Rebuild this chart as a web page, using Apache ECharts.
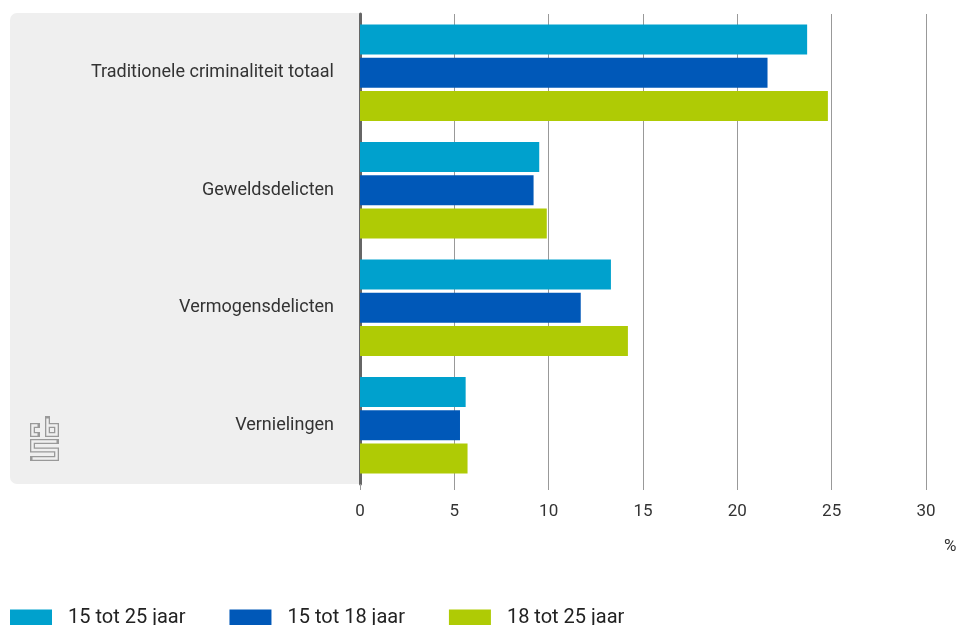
<!DOCTYPE html>
<html>
<head>
<meta charset="utf-8">
<script src="https://cdn.jsdelivr.net/npm/echarts@6/dist/echarts.min.js"></script>
<style>
  html, body { margin: 0; padding: 0; background: #fff; }
  #chart { width: 959px; height: 625px; }
</style>
</head>
<body>
<div id="chart"></div>
<script>
// Categories (top to bottom)
const categories = [
  'Traditionele criminaliteit totaal',
  'Geweldsdelicten',
  'Vermogensdelicten',
  'Vernielingen'
];

// Series names and values (%)
const seriesNames = ['15 tot 25 jaar', '15 tot 18 jaar', '18 tot 25 jaar'];
const values15to25 = [23.7, 9.5, 13.3, 5.6];
const values15to18 = [21.6, 9.2, 11.7, 5.3];
const values18to25 = [24.8, 9.9, 14.2, 5.7];

// Value axis ticks
const axisMin = 0;
const axisMax = 30;
const axisStep = 5;

const colors = ['#00a1cd', '#0058b8', '#afcb05'];
const font = 'Roboto, "Open Sans", sans-serif';

const chart = echarts.init(document.getElementById('chart'), null, { renderer: 'canvas' });

// CBS logo drawn as outlined strokes: thick grey stroke with a thin panel-coloured core
function outlined(points) {
  return [
    { type: 'polyline', shape: { points }, style: { fill: null, stroke: '#999999', lineWidth: 5, lineCap: 'square', lineJoin: 'miter' } },
    { type: 'polyline', shape: { points }, style: { fill: null, stroke: '#efefef', lineWidth: 2.4, lineCap: 'butt', lineJoin: 'miter' } }
  ];
}
const logoParts = []
  .concat(outlined([[37.5, 425.5], [32.5, 425.5], [32.5, 434.5], [37.5, 434.5]]))
  .concat(outlined([[47.5, 418.5], [47.5, 434.5], [56.5, 434.5], [56.5, 425.5], [47.5, 425.5]]))
  .concat(outlined([[56.5, 441.5], [32.5, 441.5], [32.5, 450], [56.5, 450], [56.5, 458.5], [32.5, 458.5]]));

const seriesData = [values15to25, values15to18, values18to25];

chart.setOption({
  animation: false,
  textStyle: { fontFamily: font },
  grid: { left: 360, right: 33, top: 14, bottom: 141, containLabel: false },
  graphic: [
    {
      type: 'rect', z: -10, silent: true,
      shape: { x: 10, y: 13, width: 350, height: 471, r: [7, 0, 0, 7] },
      style: { fill: '#efefef' }
    },
    { type: 'group', z: -5, silent: true, children: logoParts },
    {
      type: 'text', left: 944, top: 538,
      style: { text: '%', fontSize: 17, fill: '#333', fontFamily: font }
    }
  ],
  legend: {
    left: 10, top: 608, padding: 0,
    itemWidth: 42, itemHeight: 17, itemGap: 44,
    icon: 'rect',
    data: seriesNames,
    textStyle: { fontSize: 20, color: '#222', fontFamily: font, padding: [0, 0, 0, 11] }
  },
  xAxis: {
    type: 'value',
    min: axisMin, max: axisMax, interval: axisStep,
    axisLine: { show: false },
    axisTick: { show: true, length: 6, lineStyle: { color: '#999' } },
    splitLine: { show: true, lineStyle: { color: '#999', width: 1 } },
    axisLabel: { fontSize: 17, color: '#333', margin: 19 }
  },
  yAxis: {
    type: 'category',
    inverse: true,
    data: categories,
    axisLine: { show: true, lineStyle: { color: '#666', width: 3 } },
    axisTick: { show: false },
    axisLabel: { fontSize: 18, color: '#333', margin: 26, padding: [5, 0, 0, 0] }
  },
  series: seriesNames.map((name, i) => ({
    name,
    type: 'bar',
    data: seriesData[i],
    barWidth: 30,
    barGap: '11%',
    itemStyle: { color: colors[i] },
    z: 3
  }))
});
</script>
</body>
</html>
